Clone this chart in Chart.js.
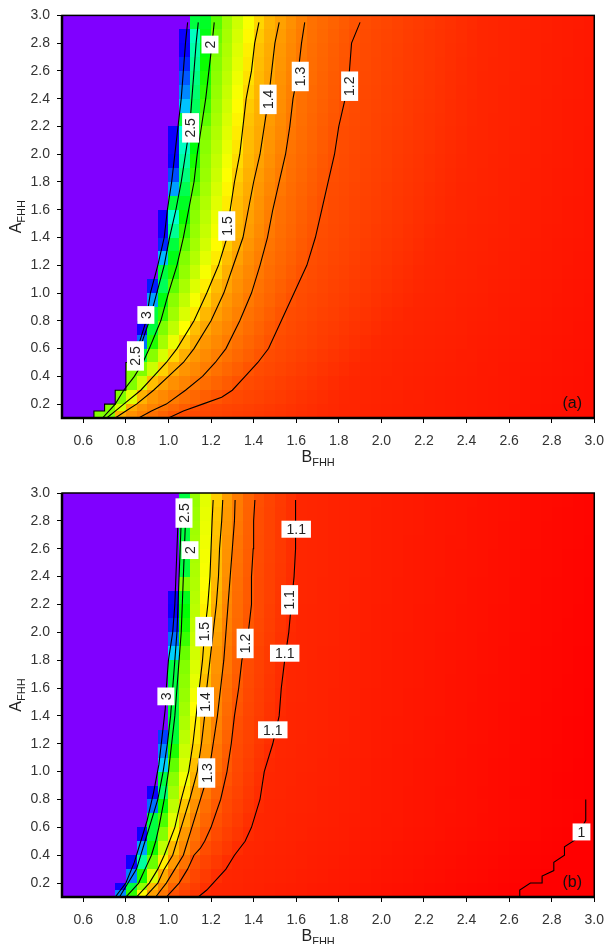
<!DOCTYPE html>
<html>
<head>
<meta charset="utf-8">
<script src="https://cdn.jsdelivr.net/npm/chart.js@4.4.0/dist/chart.umd.min.js"></script>
<style>
body { margin: 0; background: #fff; }
canvas { display: block; }
</style>
</head>
<body>
<canvas id="panelA" width="614" height="472"></canvas>
<canvas id="panelB" width="614" height="472"></canvas>
<script>
// axis ticks
const X_TICKS = [0.6, 0.8, 1.0, 1.2, 1.4, 1.6, 1.8, 2.0, 2.2, 2.4, 2.6, 2.8, 3.0];
const Y_TICKS = [0.2, 0.4, 0.6, 0.8, 1.0, 1.2, 1.4, 1.6, 1.8, 2.0, 2.2, 2.4, 2.6, 2.8, 3.0];

// image grid: B columns every 0.05, A rows (finer at the bottom)
const B_MIN = 0.5, B_MAX = 3.0, B_STEP = 0.05;
const ROW_EDGES = [0.1, 0.15, 0.2, 0.3, 0.4, 0.5, 0.6, 0.7, 0.8, 0.9, 1.0, 1.1, 1.2, 1.3, 1.4, 1.5,
    1.6, 1.7, 1.8, 1.9, 2.0, 2.1, 2.2, 2.3, 2.4, 2.5, 2.6, 2.7, 2.8, 2.9, 3.0];

// ---- panel (a) ----
const levelsA = [3, 2.5, 2, 1.5, 1.4, 1.3, 1.2];
// contour lines, [B, A] pairs
const lineA_3 = [[0.855,0.6],[0.875,0.7],[0.895,0.8],[0.915,1.0],[0.95,1.2],[0.98,1.4],[0.995,1.6],[1.015,1.8],[1.03,2.0],[1.045,2.2],[1.06,2.4],[1.07,2.6],[1.08,2.8],[1.09,2.95]];
const lineA_25 = [[0.65,0.1],[0.65,0.15],[0.70,0.15],[0.70,0.2],[0.75,0.2],[0.75,0.3],[0.80,0.3],[0.80,0.5],[0.85,0.5],[0.865,0.6],[0.91,0.8],[0.945,1.0],[0.98,1.2],[1.005,1.4],[1.035,1.6],[1.06,1.8],[1.08,2.0],[1.10,2.2],[1.11,2.4],[1.12,2.6],[1.13,2.8],[1.14,2.95]];
const lineA_2 = [[0.69,0.1],[0.72,0.15],[0.75,0.2],[0.79,0.3],[0.84,0.4],[0.88,0.5],[0.91,0.6],[0.964,0.8],[1.0,1.0],[1.04,1.2],[1.07,1.4],[1.095,1.6],[1.12,1.8],[1.135,2.0],[1.155,2.2],[1.175,2.4],[1.19,2.6],[1.205,2.8],[1.215,2.95]];
const lineA_15 = [[0.71,0.1],[0.75,0.15],[0.79,0.2],[0.87,0.3],[0.93,0.4],[0.99,0.5],[1.04,0.6],[1.12,0.8],[1.18,1.0],[1.235,1.2],[1.275,1.4],[1.29,1.6],[1.31,1.8],[1.335,2.0],[1.35,2.2],[1.365,2.4],[1.39,2.6],[1.405,2.8],[1.425,2.95]];
const lineA_14 = [[0.75,0.1],[0.80,0.15],[0.85,0.2],[0.93,0.3],[1.0,0.4],[1.07,0.5],[1.12,0.6],[1.2,0.8],[1.26,1.0],[1.305,1.2],[1.35,1.4],[1.375,1.6],[1.40,1.8],[1.43,2.0],[1.45,2.2],[1.47,2.4],[1.485,2.6],[1.50,2.8],[1.52,2.95]];
const lineA_13 = [[0.86,0.1],[0.92,0.15],[0.99,0.2],[1.08,0.3],[1.16,0.4],[1.22,0.5],[1.27,0.6],[1.335,0.8],[1.39,1.0],[1.43,1.2],[1.465,1.4],[1.49,1.6],[1.52,1.8],[1.55,2.0],[1.57,2.2],[1.585,2.4],[1.61,2.6],[1.625,2.8],[1.64,2.95]];
const lineA_12 = [[1.0,0.1],[1.07,0.15],[1.16,0.2],[1.25,0.25],[1.30,0.3],[1.36,0.4],[1.42,0.5],[1.47,0.6],[1.53,0.8],[1.59,1.0],[1.65,1.2],[1.69,1.4],[1.72,1.6],[1.75,1.8],[1.78,2.0],[1.80,2.2],[1.83,2.4],[1.85,2.6],[1.86,2.8],[1.90,2.95]];
// where the colour reaches ~1.1 (no line drawn), and the value at B = 3.0
const guideA_11 = [[1.75,0.1],[1.8,0.3],[2.0,0.7],[2.14,1.0],[2.3,1.6],[2.4,2.2],[2.45,2.95]];
const edgeA = [[0.1,1.03],[1.5,1.05],[2.95,1.06]];
// left edge of the coloured area, one per row
const purpleA = [0.65,0.70,0.75,0.80,0.80,0.85,0.85,0.85,0.90,0.90,0.90,0.95,0.95,0.95,0.95,0.95,
    1.0,1.0,1.0,1.0,1.0,1.0,1.05,1.05,1.05,1.05,1.05,1.05,1.05,1.10];
// contour labels [B, A, text, vertical]
const labelsA = [[1.195,2.79,'2',1],[1.104,2.19,'2.5',1],[1.468,2.395,'1.4',1],[1.619,2.56,'1.3',1],
    [1.851,2.49,'1.2',1],[1.274,1.483,'1.5',1],[0.894,0.842,'3',1],[0.845,0.547,'2.5',1]];

// ---- panel (b) ----
const levelsB = [3, 2.5, 2, 1.5, 1.4, 1.3, 1.2, 1.1, 1.0];
const lineB_3 = [[0.75,0.1],[0.80,0.2],[0.84,0.35],[0.87,0.5],[0.90,0.65],[0.93,0.85],[0.955,1.05],[0.97,1.25],[0.985,1.45],[0.99,1.6],[1.0,1.8],[1.02,2.0],[1.03,2.2],[1.035,2.4],[1.04,2.6],[1.045,2.8],[1.05,2.95]];
const lineB_25 = [[0.77,0.1],[0.79,0.15],[0.81,0.2],[0.85,0.3],[0.87,0.4],[0.89,0.5],[0.91,0.6],[0.95,0.8],[0.975,1.0],[0.995,1.2],[1.01,1.4],[1.02,1.6],[1.03,1.8],[1.04,2.0],[1.045,2.2],[1.05,2.4],[1.055,2.6],[1.06,2.8],[1.065,2.95]];
const lineB_2 = [[0.80,0.1],[0.83,0.15],[0.86,0.2],[0.89,0.3],[0.92,0.4],[0.94,0.5],[0.955,0.6],[0.98,0.8],[1.0,1.0],[1.015,1.2],[1.03,1.4],[1.04,1.6],[1.05,1.8],[1.06,2.0],[1.065,2.2],[1.07,2.4],[1.075,2.6],[1.08,2.8],[1.085,2.95]];
const lineB_15 = [[0.85,0.1],[0.88,0.15],[0.91,0.2],[0.95,0.3],[0.98,0.4],[1.005,0.5],[1.03,0.6],[1.06,0.8],[1.095,1.0],[1.115,1.2],[1.13,1.4],[1.145,1.6],[1.16,1.8],[1.17,2.0],[1.185,2.2],[1.195,2.4],[1.20,2.6],[1.205,2.8],[1.21,2.95]];
const lineB_14 = [[0.89,0.1],[0.92,0.15],[0.95,0.2],[0.98,0.3],[1.02,0.4],[1.04,0.5],[1.06,0.6],[1.10,0.8],[1.135,1.0],[1.155,1.2],[1.17,1.4],[1.18,1.6],[1.195,1.8],[1.21,2.0],[1.225,2.2],[1.235,2.4],[1.24,2.6],[1.25,2.8],[1.255,2.95]];
const lineB_13 = [[0.94,0.1],[0.965,0.15],[0.99,0.2],[1.03,0.3],[1.07,0.4],[1.09,0.5],[1.11,0.6],[1.15,0.8],[1.19,1.0],[1.21,1.2],[1.23,1.4],[1.245,1.6],[1.26,1.8],[1.27,2.0],[1.28,2.2],[1.29,2.4],[1.30,2.6],[1.31,2.8],[1.313,2.95]];
const lineB_12 = [[0.99,0.1],[1.02,0.15],[1.05,0.2],[1.09,0.3],[1.12,0.4],[1.15,0.45],[1.17,0.5],[1.20,0.6],[1.245,0.8],[1.275,1.0],[1.295,1.2],[1.31,1.4],[1.33,1.6],[1.345,1.8],[1.375,2.0],[1.39,2.2],[1.39,2.4],[1.398,2.6],[1.40,2.8],[1.406,2.95]];
const lineB_11 = [[1.14,0.1],[1.18,0.15],[1.21,0.2],[1.27,0.3],[1.31,0.4],[1.36,0.5],[1.39,0.6],[1.43,0.8],[1.45,1.0],[1.49,1.2],[1.52,1.4],[1.53,1.6],[1.546,1.8],[1.565,2.0],[1.577,2.2],[1.59,2.4],[1.597,2.6],[1.597,2.8],[1.597,2.95]];
const lineB_10 = [[2.65,0.1],[2.65,0.15],[2.70,0.2],[2.755,0.2],[2.755,0.25],[2.81,0.29],[2.81,0.35],[2.86,0.4],[2.86,0.46],[2.91,0.51],[2.96,0.65],[2.96,0.8]];
const edgeB = [[0.1,0.97],[0.8,0.995],[1.5,1.0],[2.95,1.01]];
const purpleB = [0.75,0.75,0.80,0.80,0.85,0.85,0.90,0.90,0.90,0.95,0.95,0.95,0.95,
    1.0,1.0,1.0,1.0,1.0,1.0,1.0,1.0,1.0,1.0,1.05,1.05,1.05,1.05,1.05,1.05,1.05];
const labelsB = [[1.073,2.856,'2.5',1],[1.101,2.59,'2',1],[1.166,2.005,'1.5',1],[1.36,1.92,'1.2',1],
    [1.60,2.74,'1.1',0],[1.569,2.233,'1.1',1],[1.546,1.85,'1.1',0],[0.988,1.54,'3',1],
    [1.174,1.50,'1.4',1],[1.49,1.30,'1.1',0],[1.18,0.99,'1.3',1],[2.94,0.567,'1',0]];

const FONT = '"Liberation Sans", Arial, sans-serif';

// B position of a contour at height a (null if the line does not reach it)
function bAt(line, a) {
    for (let i = 0; i < line.length - 1; i++) {
        const [b1, a1] = line[i], [b2, a2] = line[i + 1];
        if (a >= Math.min(a1, a2) && a <= Math.max(a1, a2)) {
            if (a1 === a2) return b1;
            return b1 + (a - a1) / (a2 - a1) * (b2 - b1);
        }
    }
    return null;
}

function edgeAt(edge, a) {
    if (a <= edge[0][0]) return edge[0][1];
    for (let i = 0; i < edge.length - 1; i++) {
        if (a <= edge[i + 1][0]) {
            const t = (a - edge[i][0]) / (edge[i + 1][0] - edge[i][0]);
            return edge[i][1] + t * (edge[i + 1][1] - edge[i][1]);
        }
    }
    return edge[edge.length - 1][1];
}

function cellValue(panel, row, a, b) {
    if (b < panel.purple[row] - 1e-6) return null;
    let knots = [];
    panel.levels.forEach((lv, i) => {
        const pb = bAt(panel.lines[i], a);
        if (pb !== null && pb > panel.purple[row] + 1e-6) knots.push({ b: pb, v: lv });
    });
    panel.guides.forEach(g => {
        const pb = bAt(g.line, a);
        if (pb !== null) knots.push({ b: pb, v: g.v });
    });
    knots.push({ b: B_MAX, v: edgeAt(panel.edge, a) });
    knots.sort((p, q) => q.v - p.v);
    const mono = [];
    knots.forEach(k => { if (!mono.length || k.b > mono[mono.length - 1].b) mono.push(k); });
    knots = mono;
    if (b <= knots[0].b) {
        if (knots[0].v >= 3) return Math.min(3.7, knots[0].v + (knots[0].b - b) * 25);
        return knots[0].v;
    }
    for (let i = 0; i < knots.length - 1; i++) {
        if (b <= knots[i + 1].b) {
            const t = (b - knots[i].b) / (knots[i + 1].b - knots[i].b);
            return knots[i].v + t * (knots[i + 1].v - knots[i].v);
        }
    }
    return knots[knots.length - 1].v;
}

// rainbow: 1.0 red ... 4.0 violet
function colourFor(v) {
    if (v === null) return 'hsl(270,100%,50%)';
    const h = Math.max(0, Math.min(270, (v - 1) * 90));
    return 'hsl(' + h.toFixed(1) + ',100%,50%)';
}

const heatPlugin = {
    id: 'heat',
    beforeDatasetsDraw(chart) {
        const panel = chart.options.panel;
        const { ctx, chartArea } = chart;
        const x = chart.scales.x, y = chart.scales.y;
        ctx.save();
        ctx.beginPath();
        ctx.rect(chartArea.left, chartArea.top, chartArea.width, chartArea.height);
        ctx.clip();
        const nCols = Math.round((B_MAX - B_MIN) / B_STEP);
        for (let r = 0; r < ROW_EDGES.length - 1; r++) {
            const a0 = ROW_EDGES[r], a1 = ROW_EDGES[r + 1];
            const ac = (a0 + a1) / 2;
            const yTop = Math.round(y.getPixelForValue(a1));
            const yBot = Math.round(y.getPixelForValue(a0));
            for (let c = 0; c < nCols; c++) {
                const b0 = +(B_MIN + c * B_STEP).toFixed(3);
                const b1 = +(b0 + B_STEP).toFixed(3);
                const xL = Math.round(x.getPixelForValue(b0));
                const xR = Math.round(x.getPixelForValue(b1));
                ctx.fillStyle = colourFor(cellValue(panel, r, ac, b0));
                ctx.fillRect(xL, yTop, xR - xL, yBot - yTop);
            }
        }
        ctx.restore();
    }
};

const labelPlugin = {
    id: 'contourLabels',
    afterDatasetsDraw(chart) {
        const panel = chart.options.panel;
        const { ctx, chartArea } = chart;
        const x = chart.scales.x, y = chart.scales.y;
        ctx.save();
        ctx.font = '14px ' + FONT;
        ctx.textAlign = 'center';
        ctx.textBaseline = 'middle';
        panel.labels.forEach(([b, a, txt, vert]) => {
            const px = x.getPixelForValue(b), py = y.getPixelForValue(a);
            const w = ctx.measureText(txt).width + 10;
            ctx.save();
            ctx.translate(px, py);
            if (vert) ctx.rotate(-Math.PI / 2);
            ctx.fillStyle = '#fff';
            ctx.fillRect(-w / 2, -8.5, w, 17);
            ctx.fillStyle = '#222';
            ctx.fillText(txt, 0, 1);
            ctx.restore();
        });
        // panel tag
        ctx.font = '16px ' + FONT;
        ctx.fillStyle = '#111';
        ctx.textAlign = 'center';
        ctx.fillText(panel.tag, chartArea.right - 22, chartArea.bottom - 14);
        ctx.restore();
    },
    afterDraw(chart) {
        const { ctx, chartArea } = chart;
        ctx.save();
        ctx.strokeStyle = '#000';
        ctx.lineWidth = 1.5;
        ctx.strokeRect(chartArea.left, chartArea.top, chartArea.width, chartArea.height);
        ctx.lineWidth = 2.5;
        ctx.beginPath();
        ctx.moveTo(chartArea.left, chartArea.top);
        ctx.lineTo(chartArea.left, chartArea.bottom);
        ctx.lineTo(chartArea.right, chartArea.bottom);
        ctx.stroke();

        // axis titles with subscripts
        ctx.fillStyle = '#222';
        ctx.textBaseline = 'alphabetic';
        ctx.textAlign = 'left';
        const big = '16px ' + FONT, small = '11px ' + FONT;
        ctx.font = big; const wB = ctx.measureText('B').width;
        ctx.font = small; const wS = ctx.measureText('FHH').width;
        let tx = (chartArea.left + chartArea.right) / 2 - 10 - (wB + wS) / 2;
        const ty = chartArea.bottom + 44;
        ctx.font = big; ctx.fillText('B', tx, ty);
        ctx.font = small; ctx.fillText('FHH', tx + wB, ty + 4);

        ctx.font = big; const wA = ctx.measureText('A').width;
        ctx.translate(21, (chartArea.top + chartArea.bottom) / 2);
        ctx.rotate(-Math.PI / 2);
        const sx = -(wA + wS) / 2;
        ctx.fillText('A', sx, 0);
        ctx.font = small; ctx.fillText('FHH', sx + wA, 4);
        ctx.restore();
    }
};

function toPoints(line) {
    return line.map(p => ({ x: p[0], y: p[1] }));
}

function makePanel(id, panel, padTop, xHeight) {
    const ctx = document.getElementById(id).getContext('2d');
    new Chart(ctx, {
        type: 'scatter',
        data: {
            datasets: panel.lines.map(l => ({
                data: toPoints(l),
                showLine: true,
                borderColor: '#000',
                borderWidth: 1.1,
                pointRadius: 0,
                fill: false,
                tension: 0
            }))
        },
        options: {
            panel: panel,
            responsive: false,
            animation: false,
            devicePixelRatio: 1,
            layout: { padding: { left: 0, right: 12, top: padTop, bottom: 0 } },
            plugins: { legend: { display: false }, tooltip: { enabled: false } },
            scales: {
                x: {
                    type: 'linear', min: B_MIN, max: B_MAX,
                    afterBuildTicks: s => { s.ticks = X_TICKS.map(v => ({ value: v })); },
                    afterFit: s => { s.height = xHeight; },
                    grid: { drawOnChartArea: false, drawTicks: true, tickLength: 5, tickColor: '#000' },
                    border: { display: false },
                    ticks: { autoSkip: false, maxRotation: 0, padding: 10, color: '#333',
                        font: { family: FONT, size: 14 }, callback: v => Number(v).toFixed(1) }
                },
                y: {
                    type: 'linear', min: 0.1, max: 3.0,
                    afterBuildTicks: s => { s.ticks = Y_TICKS.map(v => ({ value: v })); },
                    afterFit: s => { s.width = 62; },
                    grid: { drawOnChartArea: false, drawTicks: true, tickLength: 5, tickColor: '#000' },
                    border: { display: false },
                    ticks: { autoSkip: false, padding: 7, color: '#333',
                        font: { family: FONT, size: 14 }, callback: v => Number(v).toFixed(1) }
                }
            }
        },
        plugins: [heatPlugin, labelPlugin]
    });
}

makePanel('panelA', {
    tag: '(a)',
    levels: levelsA,
    lines: [lineA_3, lineA_25, lineA_2, lineA_15, lineA_14, lineA_13, lineA_12],
    guides: [{ v: 1.1, line: guideA_11 }],
    edge: edgeA,
    purple: purpleA,
    labels: labelsA
}, 14, 54);

makePanel('panelB', {
    tag: '(b)',
    levels: levelsB,
    lines: [lineB_3, lineB_25, lineB_2, lineB_15, lineB_14, lineB_13, lineB_12, lineB_11, lineB_10],
    guides: [],
    edge: edgeB,
    purple: purpleB,
    labels: labelsB
}, 21, 47);
</script>
</body>
</html>
